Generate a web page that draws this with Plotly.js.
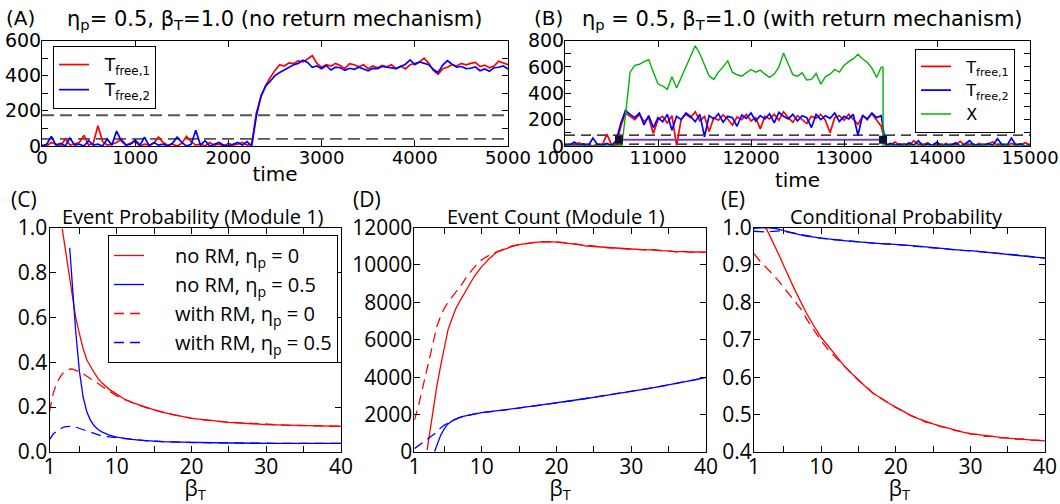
<!DOCTYPE html>
<html><head><meta charset="utf-8">
<script src="https://cdn.plot.ly/plotly-3.0.1.min.js"></script>
<style>html,body{margin:0;padding:0;background:#fff}#chart{width:1060px;height:504px}</style>
</head><body><div id="chart"></div>
<script>
// ---------- Panel A data (no return mechanism) ----------
const timeA = [0,50,100,150,200,250,300,350,400,450,500,550,600,650,700,750,800,850,900,950,
1000,1050,1100,1150,1200,1250,1300,1350,1400,1450,1500,1550,1600,1650,1700,1750,1800,1850,1900,1950,
2000,2050,2100,2150,2200,2250,2300,2350,2400,2450,2500,2550,2600,2650,2700,2750,2800,2850,2900,2950,
3000,3050,3100,3150,3200,3250,3300,3350,3400,3450,3500,3550,3600,3650,3700,3750,3800,3850,3900,3950,
4000,4050,4100,4150,4200,4250,4300,4350,4400,4450,4500,4550,4600,4650,4700,4750,4800,4850,4900,4950,5000];
const tfree1A = [5,0,20,8,0,40,5,12,20,60,5,15,115,25,5,10,20,40,5,15,
25,0,10,5,15,50,20,5,10,0,15,55,25,5,10,0,20,5,10,0,
15,5,10,20,5,10,190,280,345,390,430,462,455,472,468,485,478,495,515,470,
448,462,455,470,458,440,468,462,450,462,440,455,445,458,450,462,440,455,438,462,
470,478,500,470,430,408,440,448,462,455,470,462,470,475,452,460,445,455,482,470,462];
const tfree2A = [0,10,55,5,15,0,45,5,10,0,30,5,10,0,40,5,85,30,5,10,
35,5,50,0,20,5,10,0,15,50,20,0,10,90,5,30,0,10,20,5,
0,10,20,5,25,0,170,285,340,370,400,418,432,445,462,470,488,475,448,455,
440,458,432,448,445,430,442,436,448,438,428,442,440,452,448,445,440,452,465,490,
462,478,470,462,435,418,460,485,465,448,452,440,442,450,428,438,425,445,448,455,438];
const thresholdsA = [175, 40];

// ---------- Panel B data (with return mechanism) ----------
const timeB = [10000,10050,10100,10150,10200,10250,10300,10350,10400,10450,10500,10550,10600,10650,10700,10750,10800,10850,10900,10950,
11000,11050,11100,11150,11200,11250,11300,11350,11400,11450,11500,11550,11600,11650,11700,11750,11800,11850,11900,11950,
12000,12050,12100,12150,12200,12250,12300,12350,12400,12450,12500,12550,12600,12650,12700,12750,12800,12850,12900,12950,
13000,13050,13100,13150,13200,13250,13300,13350,13400,13450,13500,13550,13600,13650,13700,13750,13800,13850,13900,13950,
14000,14050,14100,14150,14200,14250,14300,14350,14400,14450,14500,14550,14600,14650,14700,14750,14800,14850,14900,14950,15000];
const tfree1B = [5,15,5,25,5,10,0,15,5,90,10,5,150,250,225,200,240,185,215,95,
200,225,175,230,5,205,240,215,260,190,225,110,215,195,235,205,160,220,200,240,
190,215,130,225,205,240,195,260,215,180,230,200,170,225,210,240,195,100,215,230,
195,240,205,165,225,210,245,200,150,5,10,30,5,15,0,40,10,5,25,0,
10,5,20,0,10,35,5,10,0,20,5,15,30,5,10,0,20,5,10,25,5];
const tfree2B = [10,5,30,5,15,0,60,10,5,20,5,40,170,270,240,215,250,160,230,140,
215,185,240,120,225,200,250,225,185,240,70,230,205,245,180,225,215,150,235,210,
250,190,230,205,245,175,255,225,205,240,190,230,215,140,240,200,230,210,250,185,
225,205,240,80,235,200,250,215,230,0,20,5,15,0,25,5,40,0,15,5,
30,0,10,5,25,0,15,40,5,10,0,20,5,55,10,0,60,5,15,0,10];
const timeX = [10000,10610,10650,10700,10750,10800,10850,10900,10950,11000,11050,11100,11150,11200,11250,11300,11350,11400,11450,11500,
11550,11600,11650,11700,11750,11800,11850,11900,11950,12000,12050,12100,12150,12200,12250,12300,12350,12400,12450,12500,
12550,12600,12650,12700,12750,12800,12850,12900,12950,13000,13050,13100,13150,13200,13250,13300,13350,13400,13420,13420,15000];
const valuesX = [0,0,230,560,612,620,640,655,560,470,455,430,525,440,520,600,690,760,700,620,
530,505,560,600,645,560,540,530,555,580,560,575,545,520,545,600,705,620,540,530,
555,500,505,550,470,525,545,580,560,610,640,660,695,660,635,590,520,598,598,0,0];
const eventTimesB = [10580, 13420];
const eventLevelB = [48, 48];
const thresholdsB = [82, 14];

// ---------- Panels C, D, E data (vs beta_T) ----------
const betaT = [1,1.5,2,2.5,2.7,3,3.5,3.7,4,4.5,5,5.5,6,6.5,7,7.5,8,9,10,11,12,13,14,15,16,17,18,19,20,21,22,23,24,25,26,27,28,29,30,31,32,33,34,35,36,37,38,39,40];
const probNoRM0 = [null,null,null,null,0.995,0.93,0.81,0.765,0.695,0.6,0.527,0.46,0.41,0.378,0.352,0.327,0.308,0.279,0.256,0.236,0.221,0.209,0.198,0.188,0.178,0.171,0.163,0.156,0.15,0.146,0.142,0.138,0.135,0.132,0.13,0.127,0.126,0.124,0.122,0.121,0.12,0.119,0.118,0.117,0.117,0.116,0.115,0.115,0.114];
const probNoRM05 = [null,null,null,null,null,null,null,0.91,0.76,0.54,0.36,0.245,0.178,0.14,0.116,0.1,0.09,0.075,0.066,0.06,0.056,0.053,0.05,0.048,0.046,0.045,0.044,0.043,0.042,0.042,0.041,0.041,0.04,0.04,0.04,0.039,0.039,0.039,0.039,0.038,0.038,0.038,0.038,0.038,0.038,0.038,0.038,0.038,0.038];
const probRM0 = [0.18,0.262,0.31,0.338,0.348,0.357,0.366,0.369,0.37,0.365,0.357,0.348,0.338,0.327,0.316,0.305,0.293,0.27,0.25,0.234,0.22,0.209,0.197,0.187,0.179,0.17,0.163,0.156,0.151,0.146,0.141,0.138,0.135,0.133,0.13,0.128,0.126,0.124,0.123,0.121,0.12,0.119,0.118,0.118,0.117,0.116,0.116,0.115,0.115];
const probRM05 = [0.055,0.08,0.094,0.105,0.108,0.112,0.115,0.116,0.115,0.111,0.105,0.099,0.093,0.086,0.08,0.075,0.071,0.067,0.063,0.059,0.056,0.053,0.05,0.048,0.046,0.045,0.044,0.043,0.042,0.042,0.041,0.041,0.04,0.04,0.04,0.039,0.039,0.039,0.039,0.038,0.038,0.038,0.038,0.038,0.038,0.038,0.038,0.038,0.038];

const countNoRM0 = [null,null,null,null,100,930,2200,2750,3520,4590,5660,6540,7100,7630,8010,8370,8720,9380,9910,10330,10680,10850,10980,11080,11150,11200,11230,11250,11220,11180,11150,11080,11010,10980,10950,10900,10870,10880,10850,10830,10800,10820,10760,10750,10700,10720,10680,10700,10680];
const countNoRM05 = [null,null,null,null,null,null,null,30,380,880,1250,1500,1650,1760,1840,1910,1960,2030,2100,2150,2190,2230,2290,2350,2410,2460,2520,2570,2640,2690,2730,2790,2860,2920,2980,3040,3100,3170,3240,3300,3370,3440,3510,3590,3660,3730,3820,3900,3990];
const countRM0 = [1700,2400,3250,4120,4500,5130,5950,6250,6700,7250,7680,8000,8260,8500,8760,9050,9380,9870,10280,10520,10700,10860,11000,11090,11160,11190,11240,11240,11230,11190,11140,11090,11020,10970,10960,10910,10880,10870,10860,10820,10810,10800,10770,10740,10710,10710,10690,10690,10670];
const countRM05 = [180,330,430,600,680,770,910,970,1080,1290,1440,1560,1660,1760,1840,1900,1960,2040,2100,2160,2200,2240,2290,2340,2410,2470,2510,2580,2630,2680,2740,2800,2850,2920,2990,3040,3110,3160,3230,3310,3370,3430,3520,3580,3670,3740,3810,3910,3980];

const condNoRM0 = [null,null,null,1.0,0.995,0.983,0.963,0.955,0.942,0.92,0.897,0.874,0.852,0.832,0.812,0.792,0.772,0.738,0.706,0.682,0.656,0.632,0.612,0.592,0.574,0.557,0.543,0.531,0.52,0.508,0.498,0.489,0.481,0.475,0.469,0.463,0.458,0.453,0.449,0.446,0.443,0.441,0.439,0.437,0.435,0.434,0.432,0.431,0.43];
const condNoRM05 = [0.998,0.999,0.999,1.0,1.0,0.999,0.999,0.998,0.997,0.995,0.992,0.989,0.986,0.983,0.981,0.979,0.977,0.974,0.972,0.97,0.967,0.965,0.963,0.961,0.96,0.958,0.957,0.956,0.955,0.953,0.951,0.95,0.948,0.946,0.944,0.942,0.941,0.939,0.938,0.936,0.934,0.932,0.931,0.929,0.927,0.925,0.923,0.921,0.918];
const condRM0 = [0.93,0.916,0.905,0.896,0.892,0.886,0.876,0.871,0.864,0.852,0.84,0.828,0.816,0.803,0.79,0.777,0.757,0.728,0.697,0.672,0.651,0.63,0.611,0.591,0.575,0.556,0.544,0.53,0.519,0.509,0.497,0.49,0.48,0.476,0.468,0.464,0.457,0.454,0.448,0.447,0.442,0.442,0.438,0.438,0.434,0.435,0.431,0.432,0.429];
const condRM05 = [0.99,0.989,0.988,0.988,0.988,0.989,0.99,0.99,0.991,0.991,0.99,0.988,0.986,0.983,0.981,0.979,0.977,0.974,0.971,0.969,0.967,0.965,0.963,0.961,0.96,0.958,0.957,0.955,0.954,0.953,0.951,0.949,0.948,0.946,0.944,0.942,0.94,0.939,0.937,0.936,0.934,0.932,0.93,0.929,0.927,0.925,0.923,0.921,0.918];

// ---------- labels & ticks ----------
const seriesNamesAB = ['T<sub>free,1</sub>', 'T<sub>free,2</sub>', 'X'];
const seriesNamesC = ['no RM, η<sub>p</sub> = 0', 'no RM, η<sub>p</sub> = 0.5', 'with RM, η<sub>p</sub> = 0', 'with RM, η<sub>p</sub> = 0.5'];
const panelLetters = ['(A)', '(B)', '(C)', '(D)', '(E)'];
const panelTitles = ['η<sub>p</sub>= 0.5, β<sub>T</sub>=1.0 (no return mechanism)',
                     'η<sub>p</sub> = 0.5, β<sub>T</sub>=1.0 (with return mechanism)',
                     'Event Probability (Module 1)', 'Event Count (Module 1)', 'Conditional Probability'];
const xTitleTop = 'time', xTitleBottom = 'β<sub>T</sub>';
const tickValsA_y = [0,200,400,600], minorA_y = [100,300,500];
const tickValsB_y = [0,200,400,600,800], minorB_y = [100,300,500,700];
const tickValsA_x = [0,1000,2000,3000,4000,5000];
const tickValsB_x = [10000,11000,12000,13000,14000,15000];
const tickValsBeta = [1,10,20,30,40], minorBeta = [5,15,25,35];
const tickValsC_y = [0,0.2,0.4,0.6,0.8,1.0];
const tickValsD_y = [0,2000,4000,6000,8000,10000,12000];
const tickValsE_y = [0.4,0.5,0.6,0.7,0.8,0.9,1.0];

// ---------- layout helpers ----------
const W = 1060, H = 504;
const px = v => v / W, py = v => 1 - v / H;
const RED = '#ff0000', BLUE = '#0000ff', GREEN = '#00b400', PURPLE = '#7f3fbf';
const topFont = 'DejaVu Sans', botFont = 'Open Sans';
const nb = n => '\u00a0'.repeat(n);

function axis(extra, fam, size, minorVals, standoff) {
  const a = Object.assign({
    showline: true, linecolor: '#000', linewidth: 1, mirror: 'ticks',
    ticks: 'inside', ticklen: 6, tickwidth: 1, tickcolor: '#000',
    showgrid: false, zeroline: false, fixedrange: true, tickformat: 'd',
    ticklabelstandoff: standoff, ticklabeloverflow: 'allow',
    tickfont: {family: fam, size: size, color: '#000'}
  }, extra);
  if (minorVals) a.minor = {tickvals: minorVals, ticks: 'inside', ticklen: 6, tickwidth: 1, tickcolor: '#000', showgrid: false};
  return a;
}

const traces = [];
// A
thresholdsA.forEach(v => traces.push({x: [timeA[0], timeA[timeA.length-1]], y: [v, v], xaxis: 'x', yaxis: 'y', mode: 'lines',
  line: {color: '#555', width: 1.8, dash: '12px,6px'}, showlegend: false, hoverinfo: 'skip'}));
traces.push({x: timeA, y: tfree1A, xaxis: 'x', yaxis: 'y', mode: 'lines', name: nb(2) + seriesNamesAB[0], legend: 'legend', line: {color: RED, width: 1.7}});
traces.push({x: timeA, y: tfree2A, xaxis: 'x', yaxis: 'y', mode: 'lines', name: nb(2) + seriesNamesAB[1], legend: 'legend', line: {color: BLUE, width: 1.7}});
// B
thresholdsB.forEach(v => traces.push({x: [timeB[0], timeB[timeB.length-1]], y: [v, v], xaxis: 'x2', yaxis: 'y2', mode: 'lines',
  line: {color: '#000', width: 1.2, dash: '10px,6px'}, showlegend: false, hoverinfo: 'skip'}));
traces.push({x: timeB, y: tfree1B, xaxis: 'x2', yaxis: 'y2', mode: 'lines', name: nb(2) + seriesNamesAB[0], legend: 'legend2', line: {color: RED, width: 1.7}});
traces.push({x: timeB, y: tfree2B, xaxis: 'x2', yaxis: 'y2', mode: 'lines', name: nb(2) + seriesNamesAB[1], legend: 'legend2', line: {color: BLUE, width: 1.7}});
traces.push({x: timeX, y: valuesX, xaxis: 'x2', yaxis: 'y2', mode: 'lines', name: nb(2) + seriesNamesAB[2], legend: 'legend2', line: {color: GREEN, width: 1.4}});
traces.push({x: eventTimesB, y: eventLevelB, xaxis: 'x2', yaxis: 'y2', mode: 'lines+markers', showlegend: false,
  line: {color: PURPLE, width: 2}, marker: {symbol: 'square', size: 8, color: '#101030'}});
// C, D, E
const bottom = [
  ['x3','y3', probNoRM0, probNoRM05, probRM0, probRM05, true],
  ['x4','y4', countNoRM0, countNoRM05, countRM0, countRM05, false],
  ['x5','y5', condNoRM0, condNoRM05, condRM0, condRM05, false]
];
bottom.forEach(([xa, ya, a, b, c, d, leg]) => {
  const styles = [[a, RED, 'solid'], [b, BLUE, 'solid'], [c, RED, '10px,6px'], [d, BLUE, '10px,6px']];
  styles.forEach(([ys, col, dash], i) => traces.push({x: betaT, y: ys, xaxis: xa, yaxis: ya, mode: 'lines',
    name: nb(5) + seriesNamesC[i], legend: 'legend3', showlegend: leg,
    line: {color: col, width: 1.3, dash: dash}, connectgaps: false}));
});

const dA = [px(42), px(508)], dB = [px(565), px(1030)], dTop = [py(146), py(40.5)];
const dC = [px(49.5), px(341)], dD = [px(414.4), px(706)], dE = [px(754), px(1045)], dBot = [py(452), py(227.5)];
const topTitle = {text: xTitleTop, font: {family: topFont, size: 20}, standoff: 0};
const botTitle = {text: xTitleBottom, font: {family: botFont, size: 21}, standoff: 2};

const layout = {
  width: W, height: H, margin: {l: 0, r: 0, t: 0, b: 0}, paper_bgcolor: '#fff', plot_bgcolor: '#fff',
  font: {family: topFont, color: '#000'},
  xaxis: axis({domain: dA, anchor: 'y', range: [0, 5000], tickvals: tickValsA_x, title: topTitle}, topFont, 18, null, -5),
  yaxis: axis({domain: dTop, anchor: 'x', range: [0, 600], tickvals: tickValsA_y}, topFont, 19, minorA_y, -4),
  xaxis2: axis({domain: dB, anchor: 'y2', range: [10000, 15000], tickvals: tickValsB_x, title: topTitle}, topFont, 18, null, -5),
  yaxis2: axis({domain: dTop, anchor: 'x2', range: [0, 800], tickvals: tickValsB_y}, topFont, 19, minorB_y, -4),
  xaxis3: axis({domain: dC, anchor: 'y3', range: [1, 40], tickvals: tickValsBeta, title: botTitle}, botFont, 21, minorBeta, -4),
  yaxis3: axis({domain: dBot, anchor: 'x3', range: [0, 1], tickvals: tickValsC_y, tickformat: '.1f'}, botFont, 21, null, -3),
  xaxis4: axis({domain: dD, anchor: 'y4', range: [1, 40], tickvals: tickValsBeta, title: botTitle}, botFont, 21, minorBeta, -4),
  yaxis4: axis({domain: dBot, anchor: 'x4', range: [0, 12000], tickvals: tickValsD_y}, botFont, 21, null, -3),
  xaxis5: axis({domain: dE, anchor: 'y5', range: [1, 40], tickvals: tickValsBeta, title: botTitle}, botFont, 21, minorBeta, -4),
  yaxis5: axis({domain: dBot, anchor: 'x5', range: [0.4, 1.0], tickvals: tickValsE_y, tickformat: '.1f'}, botFont, 21, null, -3),
  legend: {x: px(53), y: py(46), xanchor: 'left', yanchor: 'top', bgcolor: '#fff', bordercolor: '#000', borderwidth: 1,
    font: {family: topFont, size: 17, color: '#000'}, tracegroupgap: 0},
  legend2: {x: px(915), y: py(48.5), xanchor: 'left', yanchor: 'top', bgcolor: '#fff', bordercolor: '#000', borderwidth: 1,
    font: {family: topFont, size: 16, color: '#000'}, tracegroupgap: 0},
  legend3: {x: px(108), y: py(235), xanchor: 'left', yanchor: 'top', bgcolor: '#fff', bordercolor: '#000', borderwidth: 1,
    font: {family: botFont, size: 20, color: '#000'}, tracegroupgap: 0},
  annotations: [
    {text: panelLetters[0], x: px(4), y: py(18), xanchor: 'left', yanchor: 'middle', font: {family: topFont, size: 20}},
    {text: panelLetters[1], x: px(532), y: py(18), xanchor: 'left', yanchor: 'middle', font: {family: topFont, size: 20}},
    {text: panelLetters[2], x: px(9), y: py(199), xanchor: 'left', yanchor: 'middle', font: {family: botFont, size: 21}},
    {text: panelLetters[3], x: px(351), y: py(199), xanchor: 'left', yanchor: 'middle', font: {family: botFont, size: 21}},
    {text: panelLetters[4], x: px(719), y: py(199), xanchor: 'left', yanchor: 'middle', font: {family: botFont, size: 21}},
    {text: panelTitles[0], x: px(274), y: py(20), xanchor: 'center', yanchor: 'middle', font: {family: topFont, size: 21}},
    {text: panelTitles[1], x: px(802), y: py(20), xanchor: 'center', yanchor: 'middle', font: {family: topFont, size: 21}},
    {text: panelTitles[2], x: px(193), y: py(216), xanchor: 'center', yanchor: 'middle', font: {family: botFont, size: 20}},
    {text: panelTitles[3], x: px(556), y: py(216), xanchor: 'center', yanchor: 'middle', font: {family: botFont, size: 20}},
    {text: panelTitles[4], x: px(896), y: py(216), xanchor: 'center', yanchor: 'middle', font: {family: botFont, size: 20}}
  ].map(a => Object.assign({xref: 'paper', yref: 'paper', showarrow: false}, a))
};

Plotly.newPlot('chart', traces, layout, {staticPlot: true, displayModeBar: false});
</script></body></html>
